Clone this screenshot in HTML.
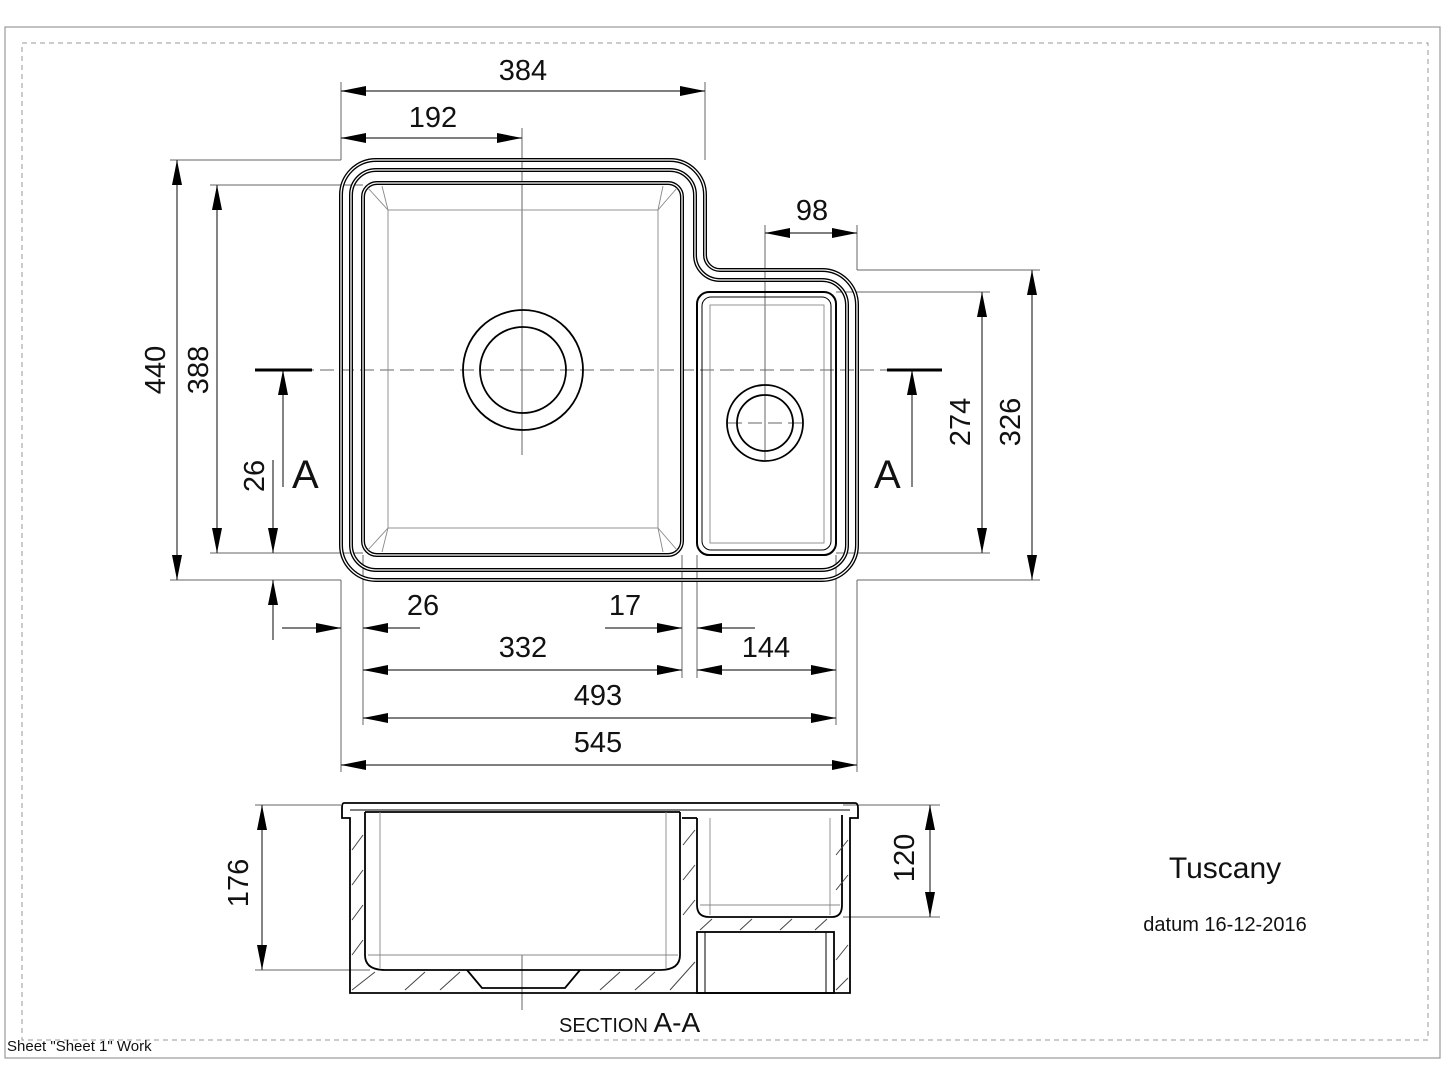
<!DOCTYPE html>
<html><head><meta charset="utf-8"><style>
html,body{margin:0;padding:0;background:#fff;}
svg{display:block;}
text{font-family:"Liberation Sans",sans-serif;fill:#111;}
</style></head><body>
<svg width="1445" height="1084" viewBox="0 0 1445 1084" xmlns="http://www.w3.org/2000/svg">
<defs>
<marker id="ae" markerWidth="26" markerHeight="12" refX="25" refY="6" orient="auto" markerUnits="userSpaceOnUse"><path d="M0,1 L25,6 L0,11 Z" fill="#000"/></marker>
<marker id="as" markerWidth="26" markerHeight="12" refX="1" refY="6" orient="auto" markerUnits="userSpaceOnUse"><path d="M26,1 L1,6 L26,11 Z" fill="#000"/></marker>
</defs>
<rect x="5" y="27" width="1435" height="1031" fill="none" stroke="#999" stroke-width="1.2"/>
<rect x="22" y="43" width="1406" height="997" fill="none" stroke="#999" stroke-width="1" stroke-dasharray="5,4"/>

<g stroke="#666" stroke-width="1" fill="none">
<line x1="341" y1="82" x2="341" y2="160"/><line x1="705" y1="82" x2="705" y2="160"/>
<line x1="522" y1="128" x2="522" y2="455"/>
<line x1="765" y1="225" x2="765" y2="460"/><line x1="857" y1="225" x2="857" y2="270"/>
<line x1="170" y1="160" x2="341" y2="160"/><line x1="170" y1="580" x2="341" y2="580"/>
<line x1="210" y1="185" x2="363" y2="185"/><line x1="210" y1="553" x2="363" y2="553"/>
<line x1="857" y1="270" x2="1040" y2="270"/><line x1="836" y1="292" x2="990" y2="292"/>
<line x1="836" y1="553" x2="990" y2="553"/><line x1="857" y1="580" x2="1040" y2="580"/>
<line x1="341" y1="580" x2="341" y2="772"/><line x1="363" y1="555" x2="363" y2="725"/>
<line x1="682" y1="555" x2="682" y2="678"/><line x1="697" y1="555" x2="697" y2="678"/>
<line x1="836" y1="555" x2="836" y2="725"/><line x1="857" y1="580" x2="857" y2="772"/>
<line x1="280" y1="370" x2="940" y2="370" stroke-dasharray="14,6"/>
<line x1="728" y1="423" x2="803" y2="423" stroke-dasharray="14,6"/>
<line x1="255" y1="805" x2="341" y2="805"/><line x1="255" y1="970" x2="370" y2="970"/>
<line x1="843" y1="805" x2="940" y2="805"/><line x1="843" y1="917" x2="940" y2="917"/>
<line x1="522" y1="955" x2="522" y2="1010"/>
</g>

<g stroke="#333" stroke-width="1.2" fill="none">
<line x1="341" y1="91" x2="705" y2="91" marker-start="url(#as)" marker-end="url(#ae)"/>
<line x1="341" y1="138" x2="522" y2="138" marker-start="url(#as)" marker-end="url(#ae)"/>
<line x1="765" y1="233" x2="857" y2="233" marker-start="url(#as)" marker-end="url(#ae)"/>
<line x1="177" y1="160" x2="177" y2="580" marker-start="url(#as)" marker-end="url(#ae)"/>
<line x1="217" y1="185" x2="217" y2="553" marker-start="url(#as)" marker-end="url(#ae)"/>
<line x1="273" y1="460" x2="273" y2="553" marker-end="url(#ae)"/>
<line x1="273" y1="640" x2="273" y2="580" marker-end="url(#ae)"/>
<line x1="982" y1="292" x2="982" y2="553" marker-start="url(#as)" marker-end="url(#ae)"/>
<line x1="1032" y1="270" x2="1032" y2="580" marker-start="url(#as)" marker-end="url(#ae)"/>
<line x1="282" y1="628" x2="341" y2="628" marker-end="url(#ae)"/>
<line x1="420" y1="628" x2="363" y2="628" marker-end="url(#ae)"/>
<line x1="605" y1="628" x2="682" y2="628" marker-end="url(#ae)"/>
<line x1="755" y1="628" x2="697" y2="628" marker-end="url(#ae)"/>
<line x1="363" y1="670" x2="682" y2="670" marker-start="url(#as)" marker-end="url(#ae)"/>
<line x1="697" y1="670" x2="836" y2="670" marker-start="url(#as)" marker-end="url(#ae)"/>
<line x1="363" y1="718" x2="836" y2="718" marker-start="url(#as)" marker-end="url(#ae)"/>
<line x1="341" y1="765" x2="857" y2="765" marker-start="url(#as)" marker-end="url(#ae)"/>
<line x1="262" y1="805" x2="262" y2="970" marker-start="url(#as)" marker-end="url(#ae)"/>
<line x1="930" y1="805" x2="930" y2="917" marker-start="url(#as)" marker-end="url(#ae)"/>
<line x1="283" y1="487" x2="283" y2="370" marker-end="url(#ae)"/>
<line x1="912" y1="487" x2="912" y2="370" marker-end="url(#ae)"/>
</g>
<g stroke="#000" stroke-width="3"><line x1="255" y1="370" x2="312" y2="370"/><line x1="887" y1="370" x2="942" y2="370"/></g>

<g fill="none" stroke="#000">
<path d="M376,160 H670 A35,35 0 0 1 705,195 V255 A15,15 0 0 0 720,270 H822 A35,35 0 0 1 857,305 V545 A35,35 0 0 1 822,580 H376 A35,35 0 0 1 341,545 V195 A35,35 0 0 1 376,160 Z" stroke-width="4"/>
<path d="M376,160 H670 A35,35 0 0 1 705,195 V255 A15,15 0 0 0 720,270 H822 A35,35 0 0 1 857,305 V545 A35,35 0 0 1 822,580 H376 A35,35 0 0 1 341,545 V195 A35,35 0 0 1 376,160 Z" stroke="#fff" stroke-width="1.3"/>
<path d="M376,170 H670 A25,25 0 0 1 695,195 V255 A25,25 0 0 0 720,280 H822 A25,25 0 0 1 847,305 V545 A25,25 0 0 1 822,570 H376 A25,25 0 0 1 351,545 V195 A25,25 0 0 1 376,170 Z" stroke-width="4"/>
<path d="M376,170 H670 A25,25 0 0 1 695,195 V255 A25,25 0 0 0 720,280 H822 A25,25 0 0 1 847,305 V545 A25,25 0 0 1 822,570 H376 A25,25 0 0 1 351,545 V195 A25,25 0 0 1 376,170 Z" stroke="#fff" stroke-width="1.3"/>
<rect x="363" y="183" width="319" height="372" rx="14" stroke-width="4"/>
<rect x="363" y="183" width="319" height="372" rx="14" stroke="#fff" stroke-width="1.3"/>
<rect x="697" y="292" width="139" height="263" rx="12" stroke-width="2"/>
<rect x="702" y="297" width="129" height="253" rx="9" stroke-width="1"/>
<g stroke="#888" stroke-width="0.9">
<rect x="388" y="210" width="270" height="318"/>
<line x1="368" y1="188" x2="388" y2="210"/><line x1="382" y1="186" x2="388" y2="210"/>
<line x1="677" y1="188" x2="658" y2="210"/><line x1="663" y1="186" x2="658" y2="210"/>
<line x1="368" y1="550" x2="388" y2="528"/><line x1="382" y1="552" x2="388" y2="528"/>
<line x1="677" y1="550" x2="658" y2="528"/><line x1="663" y1="552" x2="658" y2="528"/>
<rect x="710" y="305" width="114" height="238"/>
</g>
<circle cx="523" cy="370" r="60" stroke-width="1.8"/>
<circle cx="523" cy="370" r="43" stroke-width="1.8"/>
<circle cx="765" cy="423" r="38" stroke-width="1.8"/>
<circle cx="765" cy="423" r="28" stroke-width="1.8"/>
</g>

<g fill="none" stroke="#000" stroke-width="1.8">
<path d="M344,803 H855 Q858,803 858,808 V818 H850 V993 H350 V818 H342 V808 Q342,803 344,803 Z"/>
<line x1="350" y1="810" x2="850" y2="810" stroke-width="1"/>
<path d="M365,812 V955 Q365,970 385,970 H660 Q680,970 680,955 V812"/>
<line x1="365" y1="812" x2="680" y2="812"/>
<path d="M467,970 L482,988 H565 L580,970"/>
<path d="M697,818 V905 Q697,917 709,917 H832 Q842,917 842,905 V815"/>
<line x1="682" y1="818" x2="697" y2="818"/>
<rect x="697" y="932" width="137" height="61"/>
<line x1="705" y1="932" x2="705" y2="993" stroke-width="1"/>
<line x1="826" y1="932" x2="826" y2="993" stroke-width="1"/>
</g>
<g stroke="#888" stroke-width="0.9" fill="none">
<line x1="380" y1="812" x2="380" y2="968"/><line x1="666" y1="812" x2="666" y2="968"/>
<line x1="368" y1="955" x2="678" y2="955"/>
<line x1="710" y1="818" x2="710" y2="915"/><line x1="830" y1="818" x2="830" y2="915"/>
<line x1="700" y1="905" x2="840" y2="905"/>
</g>
<g stroke="#444" stroke-width="1">
<line x1="352" y1="850" x2="363" y2="835"/><line x1="352" y1="885" x2="363" y2="870"/><line x1="352" y1="920" x2="363" y2="905"/><line x1="352" y1="955" x2="363" y2="940"/><line x1="352" y1="990" x2="375" y2="972"/>
<line x1="405" y1="990" x2="425" y2="972"/><line x1="440" y1="990" x2="460" y2="972"/><line x1="600" y1="990" x2="620" y2="972"/><line x1="635" y1="990" x2="655" y2="972"/><line x1="670" y1="990" x2="695" y2="962"/>
<line x1="683" y1="880" x2="695" y2="865"/><line x1="683" y1="845" x2="695" y2="830"/><line x1="683" y1="915" x2="695" y2="900"/>
<line x1="700" y1="930" x2="712" y2="919"/><line x1="740" y1="930" x2="752" y2="919"/><line x1="780" y1="930" x2="792" y2="919"/><line x1="815" y1="930" x2="827" y2="919"/>
<line x1="836" y1="855" x2="848" y2="840"/><line x1="836" y1="890" x2="848" y2="875"/><line x1="836" y1="960" x2="848" y2="945"/><line x1="836" y1="990" x2="848" y2="978"/>
</g>

<g font-size="29" text-anchor="middle">
<text x="523" y="80">384</text>
<text x="433" y="127">192</text>
<text x="812" y="220">98</text>
<text x="423" y="615">26</text>
<text x="625" y="615">17</text>
<text x="523" y="657">332</text>
<text x="766" y="657">144</text>
<text x="598" y="705">493</text>
<text x="598" y="752">545</text>
<text transform="translate(165,370) rotate(-90)">440</text>
<text transform="translate(208,370) rotate(-90)">388</text>
<text transform="translate(264,476) rotate(-90)">26</text>
<text transform="translate(970,422) rotate(-90)">274</text>
<text transform="translate(1020,422) rotate(-90)">326</text>
<text transform="translate(248,883) rotate(-90)">176</text>
<text transform="translate(914,858) rotate(-90)">120</text>
</g>
<text x="292" y="488" font-size="40">A</text>
<text x="874" y="488" font-size="40">A</text>
<text x="559" y="1032" font-size="20">SECTION <tspan font-size="28">A-A</tspan></text>
<text x="1225" y="878" font-size="30" text-anchor="middle">Tuscany</text>
<text x="1225" y="931" font-size="20" text-anchor="middle">datum 16-12-2016</text>
<text x="7" y="1051" font-size="15">Sheet "Sheet 1" Work</text>
</svg>
</body></html>
